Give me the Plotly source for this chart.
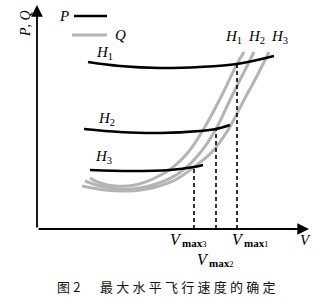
import plotly.graph_objects as go

# ---- data (schematic units: V horizontal, P/Q vertical) ----
p_h1_v = [51, 83, 123, 163, 200, 237]
p_h1_f = [167, 163, 161, 162, 165, 173]
p_h2_v = [47, 83, 123, 163, 179, 193]
p_h2_f = [100, 97, 96, 98, 100, 104]
p_h3_v = [53, 93, 133, 157, 166]
p_h3_f = [59, 58, 59, 62, 64]

q_h1_v = [53, 63, 78, 98, 118, 135, 153, 169, 185, 200, 207]
q_h1_f = [51, 46, 43, 44, 51, 61, 79, 104, 134, 165, 177]
q_h2_v = [48, 63, 81, 103, 125, 145, 163, 179, 193, 207, 217]
q_h2_f = [48, 43, 40, 41, 47, 58, 76, 100, 129, 157, 177]
q_h3_v = [45, 68, 91, 115, 138, 157, 175, 191, 207, 221, 232]
q_h3_f = [43, 39, 38, 41, 49, 62, 77, 99, 129, 155, 177]

vmax_v = [200, 179, 157]
vmax_f = [165, 100, 62]
vmax_digits = ["1", "2", "3"]

SERIF = "Liberation Serif"
GRAY = "#b4b4b4"

fig = go.Figure()

for v, f in [(q_h1_v, q_h1_f), (q_h2_v, q_h2_f), (q_h3_v, q_h3_f)]:
    fig.add_trace(go.Scatter(x=v, y=f, mode="lines", line=dict(color=GRAY, width=3, shape="spline"),
                             hoverinfo="skip", showlegend=False))

for v, f in [(p_h1_v, p_h1_f), (p_h2_v, p_h2_f), (p_h3_v, p_h3_f)]:
    fig.add_trace(go.Scatter(x=v, y=f, mode="lines", line=dict(color="black", width=2.6, shape="spline"),
                             hoverinfo="skip", showlegend=False))

for v, f in zip(vmax_v, vmax_f):
    fig.add_trace(go.Scatter(x=[v, v], y=[0, f], mode="lines",
                             line=dict(color="black", width=1.6, dash="4px,3px"),
                             hoverinfo="skip", showlegend=False))

# legend lines
fig.add_trace(go.Scatter(x=[37, 70], y=[213, 213], mode="lines", line=dict(color="black", width=2.6),
                         hoverinfo="skip", showlegend=False))
fig.add_trace(go.Scatter(x=[35, 70], y=[194, 194], mode="lines", line=dict(color=GRAY, width=3),
                         hoverinfo="skip", showlegend=False))

# axes with arrows
fig.add_annotation(x=272, y=0, ax=0, ay=0, xref="x", yref="y", axref="x", ayref="y",
                   showarrow=True, arrowhead=2, arrowsize=1.3, arrowwidth=1.8, arrowcolor="black", text="")
fig.add_annotation(x=0, y=224, ax=0, ay=0, xref="x", yref="y", axref="x", ayref="y",
                   showarrow=True, arrowhead=2, arrowsize=1.3, arrowwidth=1.8, arrowcolor="black", text="")

def txt(x, y, s, size=15, angle=0, family=SERIF, color="black"):
    fig.add_annotation(x=x, y=y, xref="x", yref="y", text=s, showarrow=False, textangle=angle,
                       font=dict(family=family, size=size, color=color))

txt(-12, 205, "<i>P</i>, <i>Q</i>", size=14, angle=-90)
txt(27, 213, "<i>P</i>", size=15)
txt(83, 194, "<i>Q</i>", size=15)
txt(67, 176, "<i>H</i><sub>1</sub>", size=15)
txt(69, 110, "<i>H</i><sub>2</sub>", size=15)
txt(66, 72, "<i>H</i><sub>3</sub>", size=15)
txt(196, 192, "<i>H</i><sub>1</sub>", size=15)
txt(219, 192, "<i>H</i><sub>2</sub>", size=15)
txt(242, 192, "<i>H</i><sub>3</sub>", size=15)
txt(268, -11, "<i>V</i>", size=15)

# V_max labels: V, "max", index digit
for lx, ly, d in [(139, -10, "3"), (201, -10, "1"), (166, -30, "2")]:
    txt(lx, ly, "<i>V</i>", size=16)
    txt(lx + 16, ly - 4, "<b>max</b>", size=11)
    txt(lx + 28, ly - 5, d, size=9)

S = "\u2005"
caption = "图" + S + "2" + S + "\u3000" + S + S.join("最大水平飞行速度的确定")
txt(129, -57, caption, size=13, family="Noto Sans CJK SC", color="#111")

fig.update_layout(width=324, height=300, margin=dict(l=0, r=0, t=0, b=0),
                  plot_bgcolor="white", paper_bgcolor="white")
fig.update_xaxes(range=[-37, 287], visible=False)
fig.update_yaxes(range=[-71, 229], visible=False)

fig.write_html("out.html")
